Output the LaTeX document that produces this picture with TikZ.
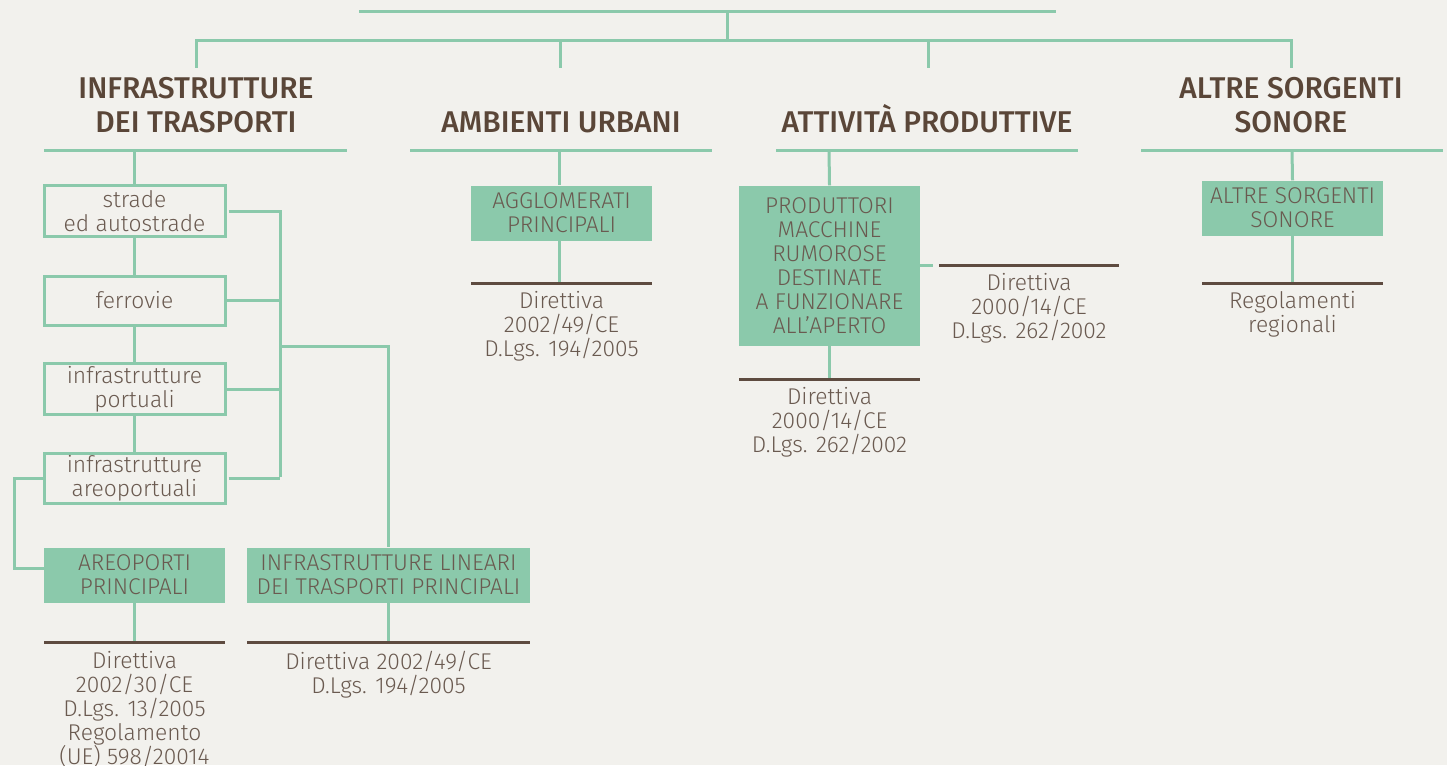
\documentclass[tikz,border=0pt]{standalone}
\usepackage{fontspec}
\setmainfont{Fira Sans}[UprightFont=* Light, BoldFont=* Medium]
\definecolor{bg}{HTML}{F2F1ED}
\definecolor{gr}{HTML}{8BC9AB}
\definecolor{br}{HTML}{5E4B40}
\definecolor{tx}{HTML}{6A5A50}
\definecolor{hd}{HTML}{5A4638}
\begin{document}
\begin{tikzpicture}[x=1pt,y=-1pt,
  gl/.style={draw=gr,line width=3pt},
  bl/.style={draw=br,line width=3pt},
  head/.style={font=\fontsize{30}{34}\selectfont\bfseries,text=hd,align=center,inner sep=0pt,anchor=north},
  headb/.style={font=\fontsize{30}{34}\selectfont\bfseries,text=hd,inner sep=0pt,anchor=base},
  obox/.style={draw=gr,line width=3pt,minimum width=181pt,minimum height=51pt,inner sep=0pt,align=center,text=tx,font=\fontsize{22.8}{24}\selectfont},
  fbox/.style={fill=gr,minimum width=181pt,minimum height=55pt,inner sep=0pt,align=center,text=tx,font=\fontsize{22.8}{24}\selectfont},
  note/.style={font=\fontsize{22.8}{24}\selectfont,text=tx,align=center,inner sep=0pt,anchor=north}]
\fill[bg] (0,0) rectangle (1447,765);
\useasboundingbox (0,0) rectangle (1447,765);

% top tree
\coordinate (t0) at (727,12);
\coordinate (t1) at (727,41);
\draw[gl] (359,12) -- (1056,12);
\draw[gl] (t0) -- (t1);
\draw[gl] (196,68) -- (196,41) -- (1291,41) -- (1291,68);
\draw[gl] (560,41) -- (560,68);
\draw[gl] (928,41) -- (928,68);

% headers
\node[head] (h1) at (196,77.5) {INFRASTRUTTURE\\DEI TRASPORTI};
\node[headb] (h2) at (561,132.5) {AMBIENTI URBANI};
\node[headb] (h3) at (927,132.5) {ATTIVITÀ PRODUTTIVE};
\node[head] (h4) at (1291,77.5) {ALTRE SORGENTI\\SONORE};
\draw[gl] (44,150) -- (347,150);
\draw[gl] (410,150) -- (712,150);
\draw[gl] (776,150) -- (1078,150);
\draw[gl] (1141,150) -- (1443,150);

% column 1
\node[obox] (s1) at (134.5,211) {strade\\ed autostrade};
\node[obox,minimum height=49pt] (s2) at (134.5,300.5) {ferrovie};
\node[obox] (s3) at (134.5,389) {infrastrutture\\portuali};
\node[obox,minimum height=50pt] (s4) at (134.5,478.5) {infrastrutture\\areoportuali};
\node[fbox] (ap) at (134.5,575) {AREOPORTI\\PRINCIPALI};
\node[fbox,minimum width=283pt] (il) at (388.5,575) {INFRASTRUTTURE LINEARI\\DEI TRASPORTI PRINCIPALI};
\coordinate (bus) at (280,477);
\coordinate (br1) at (280,346);
\draw[gl] (134.5,150) -- (s1.north);
\draw[gl] (s1.south) -- (s2.north);
\draw[gl] (s2.south) -- (s3.north);
\draw[gl] (s3.south) -- (s4.north);
\draw[gl] ([xshift=2pt]s1.east) -| (bus);
\draw[gl] (s2.east) -- (s2.east -| bus);
\draw[gl] (s3.east) -- (s3.east -| bus);
\draw[gl] ([xshift=2pt]s4.east) -- (s4.east -| bus);
\draw[gl] (br1) -| (il.north);
\draw[gl] (s4.west) -- ++(-28,0) |- ([yshift=7pt]ap.west);
\draw[gl] (ap.south) -- ++(0,40);
\draw[gl] (il.south) -- ++(0,40);
\draw[bl] (44,642) -- (225,642);
\draw[bl] (247,642) -- (530,642);
\node[note] (n1) at (134.5,651) {Direttiva\\2002/30/CE\\D.Lgs. 13/2005\\Regolamento\\(UE) 598/20014};
\node[note] (n2) at (388.5,651) {Direttiva 2002/49/CE\\D.Lgs. 194/2005};

% column 2
\coordinate (v2) at (559,150);
\node[fbox] (ag) at (561.5,213) {AGGLOMERATI\\PRINCIPALI};
\draw[gl] (v2) -- (v2 |- ag.north);
\draw[gl] (v2 |- ag.south) -- ++(0,43);
\draw[bl] (471,283) -- (652,283);
\node[note] (n3) at (561.5,291) {Direttiva\\2002/49/CE\\D.Lgs. 194/2005};

% column 3
\node[fbox,minimum height=160pt] (pm) at (829.5,265.5) {PRODUTTORI\\MACCHINE\\RUMOROSE\\DESTINATE\\A FUNZIONARE\\ALL’APERTO};
\draw[gl] (829,150) -- (pm.north);
\draw[gl] (pm.south) -- ++(0,34);
\draw[bl] (739,379) -- (920,379);
\node[note] (n4) at (829.5,387) {Direttiva\\2000/14/CE\\D.Lgs. 262/2002};
\draw[gl] (pm.east) -- ++(13,0);
\draw[bl] (939,265) -- (1119,265);
\node[note] (n5) at (1029,273) {Direttiva\\2000/14/CE\\D.Lgs. 262/2002};

% column 4
\node[fbox] (as) at (1292.5,208) {ALTRE SORGENTI\\SONORE};
\draw[gl] (1292,150) -- (as.north);
\draw[gl] (as.south) -- ++(0,48);
\draw[bl] (1202,283) -- (1383,283);
\node[note] (n6) at (1292.5,291) {Regolamenti\\regionali};
\end{tikzpicture}
\end{document}
